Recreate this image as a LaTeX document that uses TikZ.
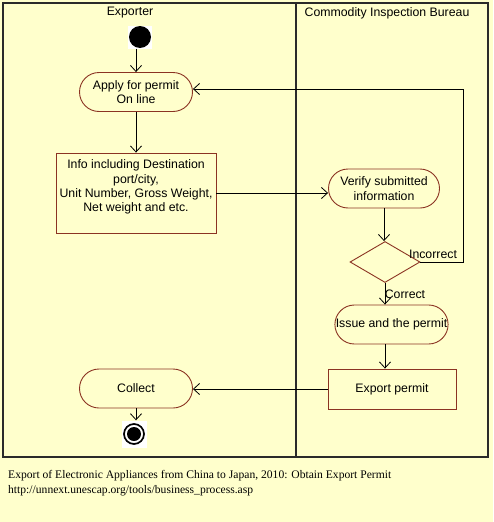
\documentclass[tikz,border=0pt]{standalone}
\usepackage{fontspec}
\setmainfont{Liberation Sans}
\newfontfamily\capfont{Liberation Serif}
\usetikzlibrary{arrows.meta,shapes.geometric,shapes.misc}
\definecolor{bg}{HTML}{FFFFCC}
\definecolor{nodeb}{HTML}{8B3322}
\definecolor{frame}{HTML}{2A2A2A}
\begin{document}
\begin{tikzpicture}[x=1pt,y=-1pt,
  every node/.style={font=\fontsize{12.3}{14.3}\selectfont},
  act/.style={rounded rectangle, draw=nodeb, line width=0.9pt, fill=bg, inner sep=0pt, align=center, minimum height=39pt},
  box/.style={rectangle, draw=nodeb, line width=0.9pt, fill=bg, inner sep=0pt, align=center},
  dec/.style={diamond, draw=nodeb, line width=0.9pt, fill=bg, inner sep=0pt, minimum width=70pt, minimum height=41pt},
  flow/.style={draw=black, line width=0.8pt, -{Straight Barb[length=6pt,width=11pt,line width=0.8pt]}},
  lbl/.style={inner sep=0pt},
  startnode/.style={rectangle, fill=white, inner sep=0pt, minimum width=24pt, minimum height=23pt,
    path picture={\fill[black] (path picture bounding box.center) circle (11pt);}},
  endnode/.style={rectangle, fill=white, inner sep=0pt, minimum width=25pt, minimum height=27pt,
    path picture={\draw[black,line width=1.7pt] (path picture bounding box.center) circle (10pt);
                  \fill[black] (path picture bounding box.center) circle (7pt);}},
]
\useasboundingbox (0,0) rectangle (493,522);
\fill[bg] (0,0) rectangle (493,522);
% swimlanes
\draw[frame, line width=1.5pt] (3,3) rectangle (488,457);
\draw[frame, line width=2.3pt] (296,3) -- (296,457);
\node[lbl] (laneA) at (130,13) {Exporter};
\node[lbl] (laneB) at (387,13) {Commodity Inspection Bureau};

% nodes
\node[startnode] (start) at (140,37) {};
\node[act, minimum width=113pt] (apply) at (136,92) {Apply for permit\\On line};
\node[box, minimum width=160pt, minimum height=80pt] (info) at (136,193)
  {\parbox[c][80pt][t]{160pt}{\centering\vspace{7pt}Info including Destination\\port/city,\\Unit Number, Gross Weight,\\Net weight and etc.}};
\node[act, minimum width=111pt] (verify) at (384,188.5) {Verify submitted\\information};
\node[dec] (check) at (385,262) {};
\node[act, minimum width=111pt] (issue) at (391.5,324.5) {Issue and the permit};
\node[box, minimum width=128pt, minimum height=40pt] (export) at (392,389) {Export permit};
\node[act, minimum width=113pt] (collect) at (136,388.5) {Collect};
\node[endnode] (end) at (134,434) {};

\coordinate (loop) at (463,89);

% connectors
\draw[flow] (start.south -| apply.north) -- (apply.north);
\draw[flow] (apply.south) -- (info.north);
\draw[flow] (info.east) -- (info.east -| verify.west);
\draw[flow] (verify.south) -- (verify.south |- check.north);
\draw[flow] (check.east) -| (loop) -- (loop -| apply.east);
\draw[flow] (check.south) -- (check.south |- issue.north);
\draw[flow] (issue.south -| check.south) -- (export.north -| check.south);
\draw[flow] (export.west) -- (export.west -| collect.east);
\draw[flow] (collect.south) -- (collect.south |- end.north);

\node[lbl] (lincorrect) at (433,254) {Incorrect};
\node[lbl] (lcorrect) at (405,294) {Correct};

% caption
\node[lbl, anchor=west, align=left, font=\capfont\fontsize{11.6}{15}\selectfont] (caption) at (8,483)
  {Export of Electronic Appliances from China to Japan, 2010: Obtain Export Permit\\http://unnext.unescap.org/tools/business\_process.asp};
\end{tikzpicture}
\end{document}
